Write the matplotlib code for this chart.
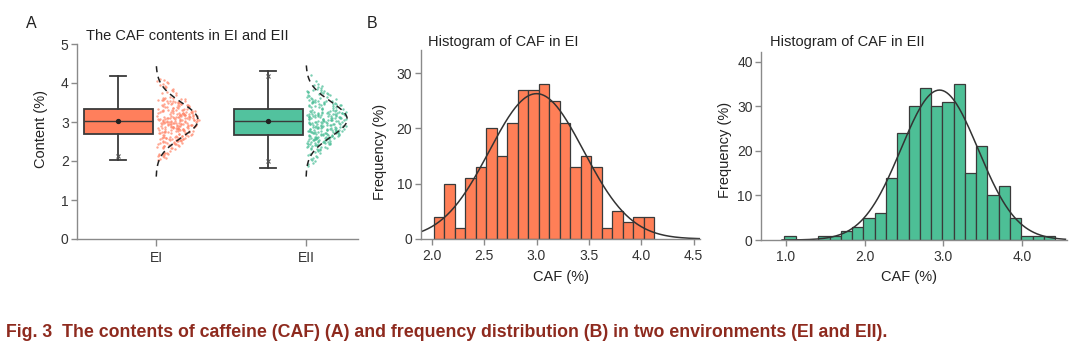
import numpy as np
import matplotlib.pyplot as plt

plt.rcParams['font.family'] = ['Liberation Sans', 'DejaVu Sans']

# ---- data ----
groups = ['EI', 'EII']
box_q1 = [2.69, 2.67]
box_med = [3.02, 3.02]
box_q3 = [3.33, 3.33]
box_lo = [2.03, 1.83]
box_hi = [4.19, 4.30]
box_mean = [3.03, 3.03]
box_marks = [[2.12], [4.17, 1.99]]

ei_start, ei_width = 2.022, 0.1
ei_counts = [4, 10, 2, 11, 13, 20, 15, 21, 27, 27, 28, 25, 21, 13, 15, 13, 2, 5, 3, 4, 4]
eii_start, eii_width = 0.98, 0.1433
eii_counts = [1, 0, 0, 1, 1, 2, 3, 5, 6, 14, 24, 30, 34, 30, 31, 35, 15, 21, 10, 12, 5, 1, 1, 1]

# fitted normal curves: mean, sd, peak height
ei_fit = (3.00, 0.45, 26.3)
eii_fit = (2.95, 0.49, 33.6)
# density outline beside the boxes: mean, sd
violin_fit = [(3.05, 0.45), (3.07, 0.45)]

box_colors = ['#FF7F5C', '#52C29E']
dot_colors = ['#FF8A6E', '#4DBF98']
hist_colors = ['#FF7F57', '#4DBF96']
edge = '#3a3a3a'
spine_c = '#8a8a8a'
text_c = '#333333'
TICK_FS = 10
LAB_FS = 10.5


def values_from_bins(start, width, counts):
    # each bin's count spread evenly across the bin
    vals = []
    for k, c in enumerate(counts):
        if c == 0:
            continue
        a = start + k * width
        vals.extend(a + width * (np.arange(c) + 0.5) / c)
    return np.array(vals)


def style(ax):
    for s in ['top', 'right']:
        ax.spines[s].set_visible(False)
    for s in ['left', 'bottom']:
        ax.spines[s].set_color(spine_c)
        ax.spines[s].set_linewidth(1.0)
    ax.tick_params(colors=spine_c, labelcolor=text_c, length=4, width=1,
                   labelsize=TICK_FS, pad=2)


fig = plt.figure(figsize=(10.8, 3.56), dpi=100, facecolor='white')
W, H = 1080, 356


def add_ax(l, r, b, t):
    return fig.add_axes([l / W, 1 - b / H, (r - l) / W, (b - t) / H])


# ---- panel A ----
axA = add_ax(77, 358, 239, 44)
style(axA)
box_pos = [-0.253, 0.747]
stats = []
for i in range(2):
    stats.append(dict(med=box_med[i], q1=box_q1[i], q3=box_q3[i],
                      whislo=box_lo[i], whishi=box_hi[i], mean=box_mean[i],
                      fliers=[]))
bp = axA.bxp(stats, positions=box_pos, widths=0.46, capwidths=0.11,
             patch_artist=True, showmeans=True, manage_ticks=False,
             boxprops=dict(edgecolor=edge, linewidth=1.3),
             whiskerprops=dict(color=edge, linewidth=1.3),
             capprops=dict(color=edge, linewidth=1.3),
             medianprops=dict(color=edge, linewidth=1.0),
             meanprops=dict(marker='o', markersize=2.8, markerfacecolor='#222',
                            markeredgecolor='#222'))
for patch, c in zip(bp['boxes'], box_colors):
    patch.set_facecolor(c)
for i in range(2):
    axA.plot([box_pos[i]] * len(box_marks[i]), box_marks[i], 'x', ms=3,
             color='#555', mew=0.8)

all_vals = [values_from_bins(ei_start, ei_width, ei_counts),
            values_from_bins(eii_start, eii_width, eii_counts)]
max_w = [0.28, 0.275]
jitter = np.random.default_rng(3)  # horizontal jitter only
for i in range(2):
    v = all_vals[i]
    v = v[(v >= box_lo[i]) & (v <= box_hi[i])]
    mu, sd = violin_fit[i]
    u = jitter.uniform(0, 1, len(v))
    env = max_w[i] * np.exp(-0.5 * ((v - mu) / 0.6) ** 2)
    axA.scatter(i + 0.008 + u * env, v, s=3, color=dot_colors[i],
                alpha=0.75, linewidths=0, zorder=3)
    yy = np.linspace(1.6, 4.45, 200)
    xx = i + max_w[i] * np.exp(-0.5 * ((yy - mu) / sd) ** 2)
    axA.plot(xx, yy, color='#222', lw=1.1, ls=(0, (4, 3)), zorder=4)

axA.set_xlim(-0.527, 1.347)
axA.set_ylim(0, 5)
axA.set_xticks([0, 1])
axA.set_xticklabels(groups)
axA.set_yticks(range(6))
axA.tick_params(axis='x', length=5, pad=4)
axA.set_ylabel('Content (%)', fontsize=LAB_FS, color='#222')
axA.yaxis.set_label_coords(-0.103, 0.564)
fig.text(86 / W, 1 - 36 / H, 'The CAF contents in EI and EII', fontsize=LAB_FS,
         color='#222', va='center', ha='left')
fig.text(31 / W, 1 - 24 / H, 'A', fontsize=11.5, color='#222', va='center', ha='center')
fig.text(372 / W, 1 - 24 / H, 'B', fontsize=11.5, color='#222', va='center', ha='center')

# ---- panel B histograms ----
hist_specs = [
    dict(box=(420.7, 700, 239, 50), start=ei_start, width=ei_width, counts=ei_counts,
         fit=ei_fit, color=hist_colors[0], xlim=(1.895, 4.56), ylim=(0, 34.2),
         xticks=[2.0, 2.5, 3.0, 3.5, 4.0, 4.5], yticks=[0, 10, 20, 30],
         curve=(1.895, 4.56), title='Histogram of CAF in EI', tx=428,
         ylab=(-0.12, 0.46), xlab=(0.502, -0.165)),
    dict(box=(761, 1067, 240, 51.7), start=eii_start, width=eii_width, counts=eii_counts,
         fit=eii_fit, color=hist_colors[1], xlim=(0.682, 4.57), ylim=(0, 42.2),
         xticks=[1.0, 2.0, 3.0, 4.0], yticks=[0, 10, 20, 30, 40],
         curve=(0.95, 4.55), title='Histogram of CAF in EII', tx=770,
         ylab=(-0.095, 0.478), xlab=(0.484, -0.16)),
]
for sp in hist_specs:
    ax = add_ax(*sp['box'])
    style(ax)
    edges = sp['start'] + sp['width'] * np.arange(len(sp['counts']))
    ax.bar(edges, sp['counts'], width=sp['width'], align='edge',
           color=sp['color'], edgecolor=edge, linewidth=0.9)
    mu, sd, peak = sp['fit']
    xs = np.linspace(sp['curve'][0], sp['curve'][1], 300)
    ax.plot(xs, peak * np.exp(-0.5 * ((xs - mu) / sd) ** 2), color='#333', lw=1.1)
    ax.set_xlim(*sp['xlim'])
    ax.set_ylim(*sp['ylim'])
    ax.set_xticks(sp['xticks'])
    ax.set_xticklabels([f'{t:.1f}' for t in sp['xticks']])
    ax.set_yticks(sp['yticks'])
    ax.tick_params(axis='x', pad=3)
    ax.set_ylabel('Frequency (%)', fontsize=LAB_FS, color='#222')
    ax.yaxis.set_label_coords(*sp['ylab'])
    ax.set_xlabel('CAF (%)', fontsize=LAB_FS, color='#222')
    ax.xaxis.set_label_coords(*sp['xlab'])
    fig.text(sp['tx'] / W, 1 - 42 / H, sp['title'], fontsize=LAB_FS, color='#222',
             va='center', ha='left')

fig.text(6 / W, 1 - 337 / H,
         'Fig. 3  The contents of caffeine (CAF) (A) and frequency distribution (B) '
         'in two environments (EI and EII).',
         fontsize=12.8, fontweight='bold', color='#8E2A1E', va='baseline', ha='left')

fig.savefig('out.png', dpi=100, facecolor='white')
